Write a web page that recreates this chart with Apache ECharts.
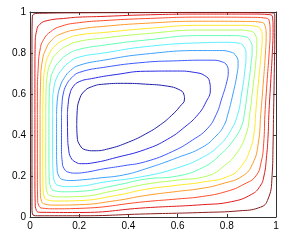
<!DOCTYPE html>
<html><head><meta charset="utf-8">
<script src="https://cdn.jsdelivr.net/npm/echarts@6/dist/echarts.min.js"></script>
<style>html,body{margin:0;padding:0;background:#fff}#c{width:291px;height:242px}</style>
</head><body><div id="c"></div>
<script>
var xTicks = ["0","0.2","0.4","0.6","0.8","1"];
var yTicks = ["0","0.2","0.4","0.6","0.8","1"];
// contour levels, outermost (brown) to innermost (dark blue)
var levelColors = ["#8a1c1c","#e01c1c","#ff4a2a","#ff9a2a","#ffe82a","#b4ff5a","#64ffb4","#5af0ff","#3ca0ff","#3c5aff","#2a2ae6","#1e1eaa"];
var c1 = [[.008,.5],[.008,.2],[.008,.05],[.01,.015],[.03,.006],[.2,.006],[.47,.015],[.7,.022],[.85,.03],[.93,.045],[.965,.08],[.984,.2],[.988,.35],[.99,.5],[.993,.7],[.995,.9],[.995,.98],[.99,.995],[.95,.997],[.7,.998],[.47,.997],[.2,.996],[.05,.994],[.015,.99],[.009,.96],[.008,.85],[.008,.5]];
var c2 = [[.02,.5],[.02,.2],[.021,.07],[.026,.032],[.04,.023],[.2,.022],[.47,.045],[.7,.06],[.82,.075],[.9,.11],[.935,.15],[.951,.2],[.962,.3],[.968,.4],[.971,.5],[.978,.65],[.985,.8],[.988,.92],[.986,.975],[.975,.987],[.9,.99],[.7,.99],[.47,.986],[.285,.978],[.2,.975],[.15,.97],[.07,.958],[.04,.94],[.027,.91],[.021,.84],[.02,.7],[.02,.5]];
var c3 = [[.03,.5],[.03,.2],[.031,.09],[.036,.055],[.05,.043],[.1,.04],[.2,.042],[.47,.075],[.6,.088],[.7,.1],[.8,.125],[.87,.16],[.918,.2],[.94,.27],[.95,.36],[.955,.5],[.963,.65],[.972,.8],[.976,.9],[.973,.955],[.96,.97],[.9,.974],[.7,.975],[.47,.968],[.3,.958],[.2,.948],[.13,.932],[.085,.905],[.055,.865],[.04,.81],[.033,.72],[.03,.6],[.03,.5]];
var c4 = [[.041,.5],[.041,.22],[.042,.12],[.047,.077],[.06,.063],[.1,.058],[.2,.06],[.35,.08],[.47,.105],[.6,.125],[.7,.14],[.78,.162],[.864,.2],[.905,.26],[.928,.36],[.938,.5],[.948,.65],[.957,.8],[.96,.89],[.955,.935],[.94,.95],[.88,.954],[.7,.955],[.47,.945],[.3,.93],[.2,.916],[.13,.895],[.09,.865],[.065,.82],[.05,.76],[.043,.66],[.041,.5]];
var c5 = [[.052,.5],[.052,.24],[.053,.14],[.058,.098],[.072,.083],[.11,.078],[.2,.08],[.35,.105],[.47,.135],[.6,.155],[.7,.17],[.81,.2],[.86,.25],[.895,.33],[.912,.42],[.917,.5],[.928,.65],[.94,.8],[.944,.88],[.938,.915],[.92,.93],[.86,.935],[.7,.935],[.47,.919],[.3,.9],[.2,.888],[.145,.868],[.105,.838],[.078,.795],[.062,.735],[.054,.63],[.052,.5]];
var c6 = [[.064,.5],[.064,.26],[.065,.165],[.07,.12],[.085,.103],[.125,.098],[.2,.1],[.35,.13],[.47,.16],[.6,.18],[.72,.2],[.79,.25],[.845,.32],[.88,.41],[.893,.5],[.906,.63],[.918,.76],[.922,.85],[.915,.89],[.895,.907],[.84,.912],[.7,.912],[.47,.894],[.3,.873],[.2,.857],[.15,.835],[.11,.8],[.085,.755],[.07,.69],[.065,.6],[.064,.5]];
var c7 = [[.077,.5],[.077,.28],[.078,.19],[.084,.146],[.1,.128],[.14,.123],[.2,.125],[.35,.155],[.47,.185],[.6,.2],[.7,.24],[.77,.3],[.83,.38],[.862,.45],[.871,.5],[.885,.62],[.898,.74],[.903,.82],[.895,.86],[.872,.88],[.82,.885],[.7,.885],[.47,.863],[.3,.838],[.2,.818],[.155,.795],[.12,.76],[.095,.715],[.082,.66],[.078,.59],[.077,.5]];
var c8 = [[.092,.5],[.092,.3],[.094,.215],[.1,.172],[.117,.153],[.155,.148],[.2,.15],[.3,.17],[.47,.2],[.6,.24],[.7,.29],[.77,.35],[.815,.42],[.844,.5],[.86,.6],[.874,.72],[.878,.79],[.87,.83],[.848,.848],[.8,.852],[.7,.85],[.47,.831],[.3,.8],[.2,.78],[.16,.755],[.13,.72],[.107,.675],[.096,.62],[.092,.56],[.092,.5]];
var c9 = [[.108,.5],[.108,.32],[.11,.24],[.117,.2],[.135,.182],[.165,.178],[.2,.18],[.28,.19],[.38,.205],[.47,.235],[.6,.29],[.7,.34],[.76,.4],[.79,.45],[.804,.5],[.825,.6],[.842,.7],[.846,.75],[.838,.785],[.815,.805],[.77,.812],[.7,.812],[.47,.795],[.3,.765],[.2,.74],[.165,.715],[.14,.68],[.122,.635],[.112,.58],[.108,.5]];
var c10 = [[.128,.5],[.128,.34],[.131,.27],[.139,.235],[.158,.218],[.185,.214],[.22,.217],[.3,.235],[.38,.25],[.47,.27],[.58,.32],[.66,.375],[.72,.43],[.757,.5],[.78,.58],[.8,.66],[.806,.71],[.8,.74],[.78,.757],[.74,.765],[.7,.765],[.6,.762],[.47,.755],[.3,.73],[.2,.705],[.17,.68],[.148,.645],[.135,.6],[.13,.55],[.128,.5]];
var c11 = [[.152,.5],[.153,.4],[.157,.33],[.166,.29],[.185,.268],[.21,.26],[.26,.265],[.35,.29],[.47,.33],[.56,.38],[.63,.44],[.683,.5],[.715,.56],[.733,.62],[.73,.66],[.71,.69],[.67,.705],[.6,.712],[.47,.711],[.35,.695],[.25,.675],[.2,.66],[.175,.635],[.162,.6],[.155,.55],[.152,.5]];
var c12 = [[.19,.45],[.192,.39],[.203,.35],[.225,.328],[.26,.323],[.32,.333],[.4,.365],[.47,.405],[.53,.45],[.575,.495],[.61,.54],[.628,.575],[.625,.6],[.605,.622],[.56,.638],[.47,.648],[.38,.652],[.3,.648],[.25,.635],[.218,.61],[.2,.57],[.192,.52],[.19,.45]];
var contours = [c1,c2,c3,c4,c5,c6,c7,c8,c9,c10,c11,c12];

var chart = echarts.init(document.getElementById('c'), null, {renderer:'canvas'});
var lab = {fontSize:10, color:'#000', fontFamily:'Liberation Sans, Arial, sans-serif'};
function axisX(pos, showLab){
  return {type:'value', position:pos, min:0, max:1, interval:0.2,
    axisLine:{show:true, onZero:false, lineStyle:{color:'#333', width:1}},
    axisTick:{show:true, inside:true, length:3, lineStyle:{color:'#333'}},
    axisLabel:Object.assign({show:showLab, margin:4, formatter:function(v){return xTicks[Math.round(v*5)];}}, lab),
    splitLine:{show:false}};
}
function axisY(pos, showLab){
  return {type:'value', position:pos, min:0, max:1, interval:0.2,
    axisLine:{show:true, onZero:false, lineStyle:{color:'#333', width:1}},
    axisTick:{show:true, inside:true, length:3, lineStyle:{color:'#333'}},
    axisLabel:Object.assign({show:showLab, margin:4, formatter:function(v){return yTicks[Math.round(v*5)];}}, lab),
    splitLine:{show:false}};
}
var series = contours.map(function(pts, i){
  return {type:'line', data:pts, xAxisIndex:0, yAxisIndex:0, showSymbol:false, symbol:'none',
    smooth:0.5, lineStyle:{color:levelColors[i], width:1}, silent:true, z:2+i};
});
chart.setOption({
  animation:false,
  grid:{left:30, right:15, top:12, bottom:25},
  xAxis:[axisX('bottom', true), axisX('top', false)],
  yAxis:[axisY('left', true), axisY('right', false)],
  series:series
});
</script></body></html>
